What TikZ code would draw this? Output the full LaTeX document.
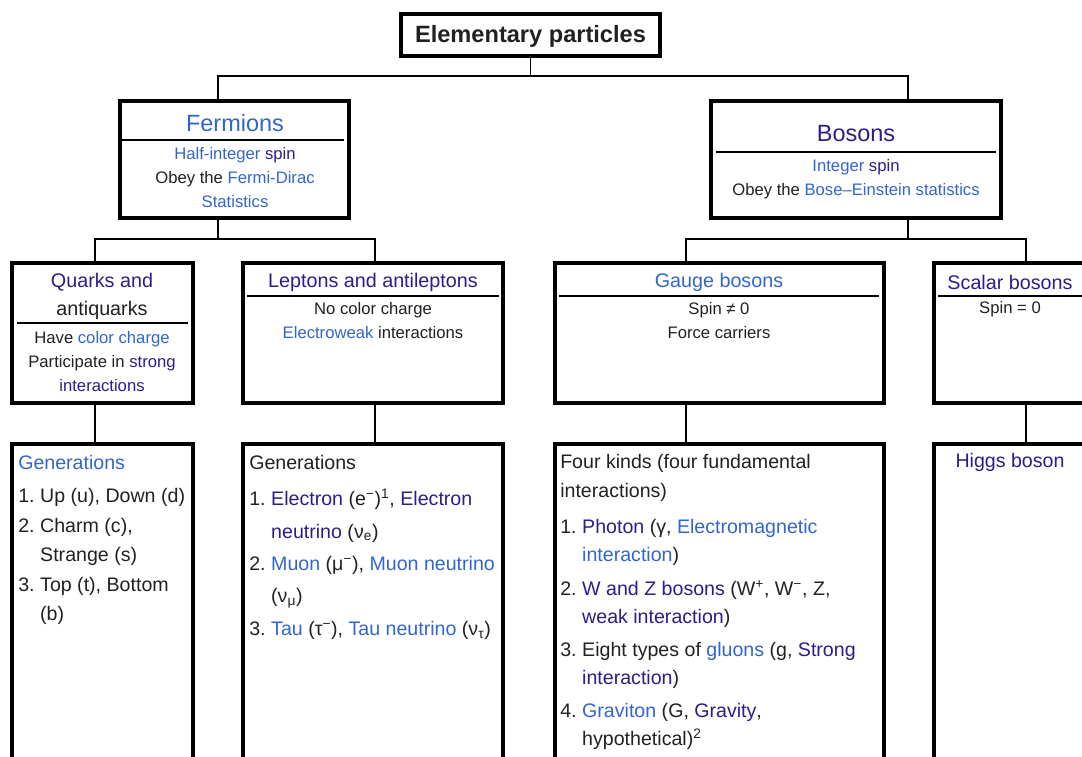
\documentclass[tikz,border=0pt]{standalone}
\usepackage{fontspec}
\setmainfont{Liberation Sans}
\usepackage{tikz}
\usetikzlibrary{positioning,calc,fit}
\definecolor{cA}{HTML}{3366CC}
\definecolor{cB}{HTML}{2C1E8A}
\definecolor{cK}{HTML}{202122}
\tikzset{
  frame/.style={draw=black,line width=2.5pt,inner sep=0pt,outer sep=0pt,fill=white},
  wire/.style={draw=black,line width=1.1pt},
  rulebar/.style={draw=black,line width=1.3pt},
  ttl/.style={inner sep=0pt,font=\fontsize{17.6}{21}\selectfont,text=cK},
  sub/.style={inner sep=0pt,align=center,font=\fontsize{14.8}{21}\selectfont,text=cK},
  body/.style={inner sep=0pt,align=center,font=\fontsize{12.5}{18}\selectfont,text=cK},
  lst/.style={inner sep=0pt,font=\fontsize{14.7}{21.75}\selectfont,text=cK},
}
\newcommand{\lk}[1]{\textcolor{cA}{#1}}
\newcommand{\vl}[1]{\textcolor{cB}{#1}}

\begin{document}
\begin{tikzpicture}[x=0.75pt,y=-0.75pt]
  \path[use as bounding box] (0,0) rectangle (1082,757);
  \clip (0,0) rectangle (1082,757);
  % boxes
  \node[frame,fit={(401,14) (660,56)}] (top) {};
  \node[frame,fit={(120,101) (349,218)}] (ferm) {};
  \node[frame,fit={(711,101) (1001,218)}] (bos) {};
  \node[frame,fit={(12,263) (193,403)}] (quark) {};
  \node[frame,fit={(243,263) (503,403)}] (lept) {};
  \node[frame,fit={(555,263) (884,403)}] (gauge) {};
  \node[frame,fit={(934,263) (1086,403)}] (scal) {};
  \node[frame,fit={(12,444) (193,775)}] (qgen) {};
  \node[frame,fit={(243,444) (503,775)}] (lgen) {};
  \node[frame,fit={(555,444) (884,775)}] (ggen) {};
  \node[frame,fit={(934,444) (1086,775)}] (hgen) {};

  % connectors
  \draw[wire] (top.south) -- ++(0,20) -| ($(ferm.north)+(-16.5,0)$);
  \draw[wire] (top.south) -- ++(0,20) -| ($(bos.north)+(52,0)$);
  \draw[wire] ($(ferm.south)+(-16.5,0)$) -- ++(0,21) -| ($(quark.north)+(-7.5,0)$);
  \draw[wire] ($(ferm.south)+(-16.5,0)$) -- ++(0,21) -| ($(lept.north)+(2,0)$);
  \draw[wire] ($(bos.south)+(52,0)$) -- ++(0,21) -| ($(gauge.north)+(-33.5,0)$);
  \draw[wire] ($(bos.south)+(52,0)$) -- ++(0,21) -| ($(scal.north)+(16,0)$);
  \foreach \a/\b/\d in {quark/qgen/-7.5,lept/lgen/2,gauge/ggen/-33.5,scal/hgen/16}
    \draw[wire] ($(\a.south)+(\d,0)$) -- ($(\b.north)+(\d,0)$);

  % rules under the headings
  \draw[rulebar] ($(ferm.north west)+(2,39)$) -- ($(ferm.north east)+(-5,39)$);
  \draw[rulebar] ($(bos.north west)+(5,51)$) -- ($(bos.north east)+(-5,51)$);
  \draw[rulebar] ($(quark.north west)+(5,60)$) -- ($(quark.north east)+(-5,60)$);
  \draw[rulebar] ($(lept.north west)+(4,33)$) -- ($(lept.north east)+(-4,33)$);
  \draw[rulebar] ($(gauge.north west)+(4,33)$) -- ($(gauge.north east)+(-5,33)$);
  \draw[rulebar] ($(scal.north west)+(4,33)$) -- ($(scal.north east)+(0,33)$);

  % texts
  \node[ttl,font=\bfseries\fontsize{17.7}{21}\selectfont] (topT) at ($(top)+(0,1.5)$) {Elementary particles};
  \node[ttl,text=cA] (fermT) at (235,123) {Fermions};
  \node[body] (fermB) at (235,178) {\lk{Half-integer} \vl{spin}\\Obey the \lk{Fermi-Dirac}\\\lk{Statistics}};
  \node[ttl,text=cB] (bosT) at (856,134) {Bosons};
  \node[body] (bosB) at (856,179) {\lk{Integer} \vl{spin}\\Obey the \lk{Bose–Einstein statistics}};
  \node[sub] (quarkT) at (102,296) {\vl{Quarks and}\\antiquarks};
  \node[body] (quarkB) at (102,362) {Have \lk{color charge}\\Participate in \vl{strong}\\\vl{interactions}};
  \node[sub,text=cB] (leptT) at (373,282) {Leptons and antileptons};
  \node[body] (leptB) at (373,321) {No color charge\\\lk{Electroweak} interactions};
  \node[sub,text=cA] (gaugeT) at (719,282) {Gauge bosons};
  \node[body] (gaugeB) at (719,321) {Spin ≠ 0\\Force carriers};
  \node[sub,text=cB] (scalT) at (1010,282) {Scalar bosons};
  \node[body] (scalB) at (1010,309) {Spin = 0};

  % lists
  \node[lst,anchor=north west] (qlist) at (18,449) {\begin{tabular}{@{}l@{\hspace{4.2pt}}l@{}}
    \multicolumn{2}{@{}l@{}}{\lk{Generations}}\\[3pt]
    1. & Up (u), Down (d)\\[0.75pt]
    2. & Charm (c),\\
       & Strange (s)\\[0.75pt]
    3. & Top (t), Bottom\\
       & (b)
  \end{tabular}};
  \node[lst,anchor=north west] (llist) at (249,449) {\begin{tabular}{@{}l@{\hspace{4.2pt}}l@{}}
    \multicolumn{2}{@{}l@{}}{Generations}\\[5.25pt]
    1. & \vl{Electron} (e\textsuperscript{−})\textsuperscript{1}, \vl{Electron}\\[2.6pt]
       & \vl{neutrino} (ν\textsubscript{e})\\[2.6pt]
    2. & \lk{Muon} (μ\textsuperscript{−}), \lk{Muon neutrino}\\[2.6pt]
       & (ν\textsubscript{μ})\\[2.6pt]
    3. & \lk{Tau} (τ\textsuperscript{−}), \lk{Tau neutrino} (ν\textsubscript{τ})
  \end{tabular}};
  \node[lst,font=\fontsize{14.7}{21}\selectfont,anchor=north west] (glist) at (560,449) {\begin{tabular}{@{}l@{\hspace{4.2pt}}l@{}}
    \multicolumn{2}{@{}l@{}}{Four kinds (four fundamental}\\[0.75pt]
    \multicolumn{2}{@{}l@{}}{interactions)}\\[6pt]
    1. & \vl{Photon} (γ, \lk{Electromagnetic}\\
       & \lk{interaction})\\[4pt]
    2. & \vl{W and Z bosons} (W\textsuperscript{+}, W\textsuperscript{−}, Z,\\
       & \vl{weak interaction})\\[4pt]
    3. & Eight types of \lk{gluons} (g, \vl{Strong}\\
       & \vl{interaction})\\[4pt]
    4. & \lk{Graviton} (G, \vl{Gravity},\\
       & hypothetical)\textsuperscript{2}
  \end{tabular}};
  \node[lst,text=cB] (higgs) at (1010,462) {Higgs boson};
\end{tikzpicture}
\end{document}
